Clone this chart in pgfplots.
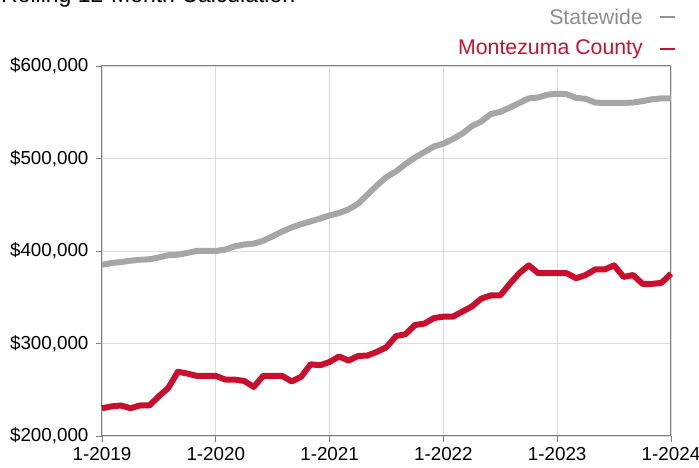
\documentclass[border=0pt]{standalone}
\usepackage{fontspec}
\setmainfont{Liberation Sans}
\usepackage{pgfplots}
\pgfplotsset{compat=1.18}
\definecolor{stategray}{HTML}{A6A6A6}
\definecolor{countyred}{HTML}{C8102E}
\definecolor{gridgray}{HTML}{DCDCDC}
\definecolor{axisgray}{HTML}{808080}
\begin{document}
\begin{tikzpicture}[x=1pt,y=1pt]
\begin{axis}[
  at={(0,0)}, anchor=south west,
  scale only axis, width=569pt, height=370pt,
  xmin=0, xmax=60, ymin=200000, ymax=600000,
  scaled y ticks=false,
  xtick={0,12,24,36,48,60},
  xticklabels={1-2019,1-2020,1-2021,1-2022,1-2023,1-2024},
  ytick={200000,300000,400000,500000,600000},
  yticklabels={{\$200,000},{\$300,000},{\$400,000},{\$500,000},{\$600,000}},
  tick label style={font=\fontsize{18.8}{20}\selectfont, text=black},
  /pgf/number format/assume math mode=true,
  xtick pos=bottom, ytick pos=left,
  tick align=outside, major tick length=6pt,
  tick style={axisgray, line width=0.8pt},
  axis line style={axisgray, line width=1pt},
  grid=major, major grid style={gridgray, line width=0.8pt},
  xticklabel style={yshift=-2pt},
  yticklabel style={xshift=-4pt},
  clip=false,
]
\addplot[stategray, line width=6pt, line join=round] coordinates {
(0,385000)(1,387000)(2,388000)(3,389500)(4,390500)(5,391000)(6,393000)(7,395500)(8,396000)(9,398000)
(10,400000)(11,400000)(12,400000)(13,401500)(14,405000)(15,407000)(16,408000)(17,411000)(18,416000)(19,421000)
(20,425500)(21,429000)(22,432000)(23,435000)(24,438500)(25,441000)(26,445000)(27,451000)(28,461000)(29,471000)
(30,480000)(31,486000)(32,494000)(33,501000)(34,507000)(35,513000)(36,516000)(37,521000)(38,527000)(39,535000)
(40,540000)(41,548000)(42,550500)(43,555000)(44,560000)(45,565000)(46,566000)(47,569000)(48,570000)(49,569500)
(50,565500)(51,564500)(52,560500)(53,560000)(54,560000)(55,560000)(56,560500)(57,562000)(58,564000)(59,565000)
(60,565000)
};
\addplot[countyred, line width=6pt, line join=round] coordinates {
(0,230000)(1,232000)(2,233000)(3,230000)(4,233000)(5,233000)(6,243000)(7,252000)(8,269500)(9,267500)
(10,265000)(11,265000)(12,265000)(13,261000)(14,261000)(15,259500)(16,253000)(17,265000)(18,265000)(19,265000)
(20,259000)(21,264000)(22,277500)(23,276500)(24,280000)(25,286000)(26,281500)(27,286500)(28,287000)(29,291000)
(30,296000)(31,308000)(32,310000)(33,320000)(34,321500)(35,327500)(36,329000)(37,329000)(38,334500)(39,340000)
(40,348500)(41,352000)(42,352000)(43,364500)(44,376000)(45,384500)(46,376000)(47,376000)(48,376000)(49,376000)
(50,370500)(51,374000)(52,380000)(53,380000)(54,384500)(55,372000)(56,374000)(57,364500)(58,364500)(59,365500)
(60,375500)
};
\end{axis}
\node[anchor=base west, inner sep=0, font=\fontsize{23}{25}\selectfont] at (-101,433.5) {Rolling 12-Month Calculation};
\node[anchor=base east, inner sep=0, text=stategray!85!black, font=\fontsize{21.3}{24}\selectfont] at (541,411) {Statewide};
\draw[stategray!90!black, line width=2pt] (558,419) -- (573,419);
\node[anchor=base east, inner sep=0, text=countyred, font=\fontsize{21.3}{24}\selectfont] at (541,381) {Montezuma County};
\draw[countyred, line width=2pt] (558,387) -- (573,387);
\pgfresetboundingbox
\useasboundingbox (-102,-32) rectangle (597,436);
\end{tikzpicture}
\end{document}
